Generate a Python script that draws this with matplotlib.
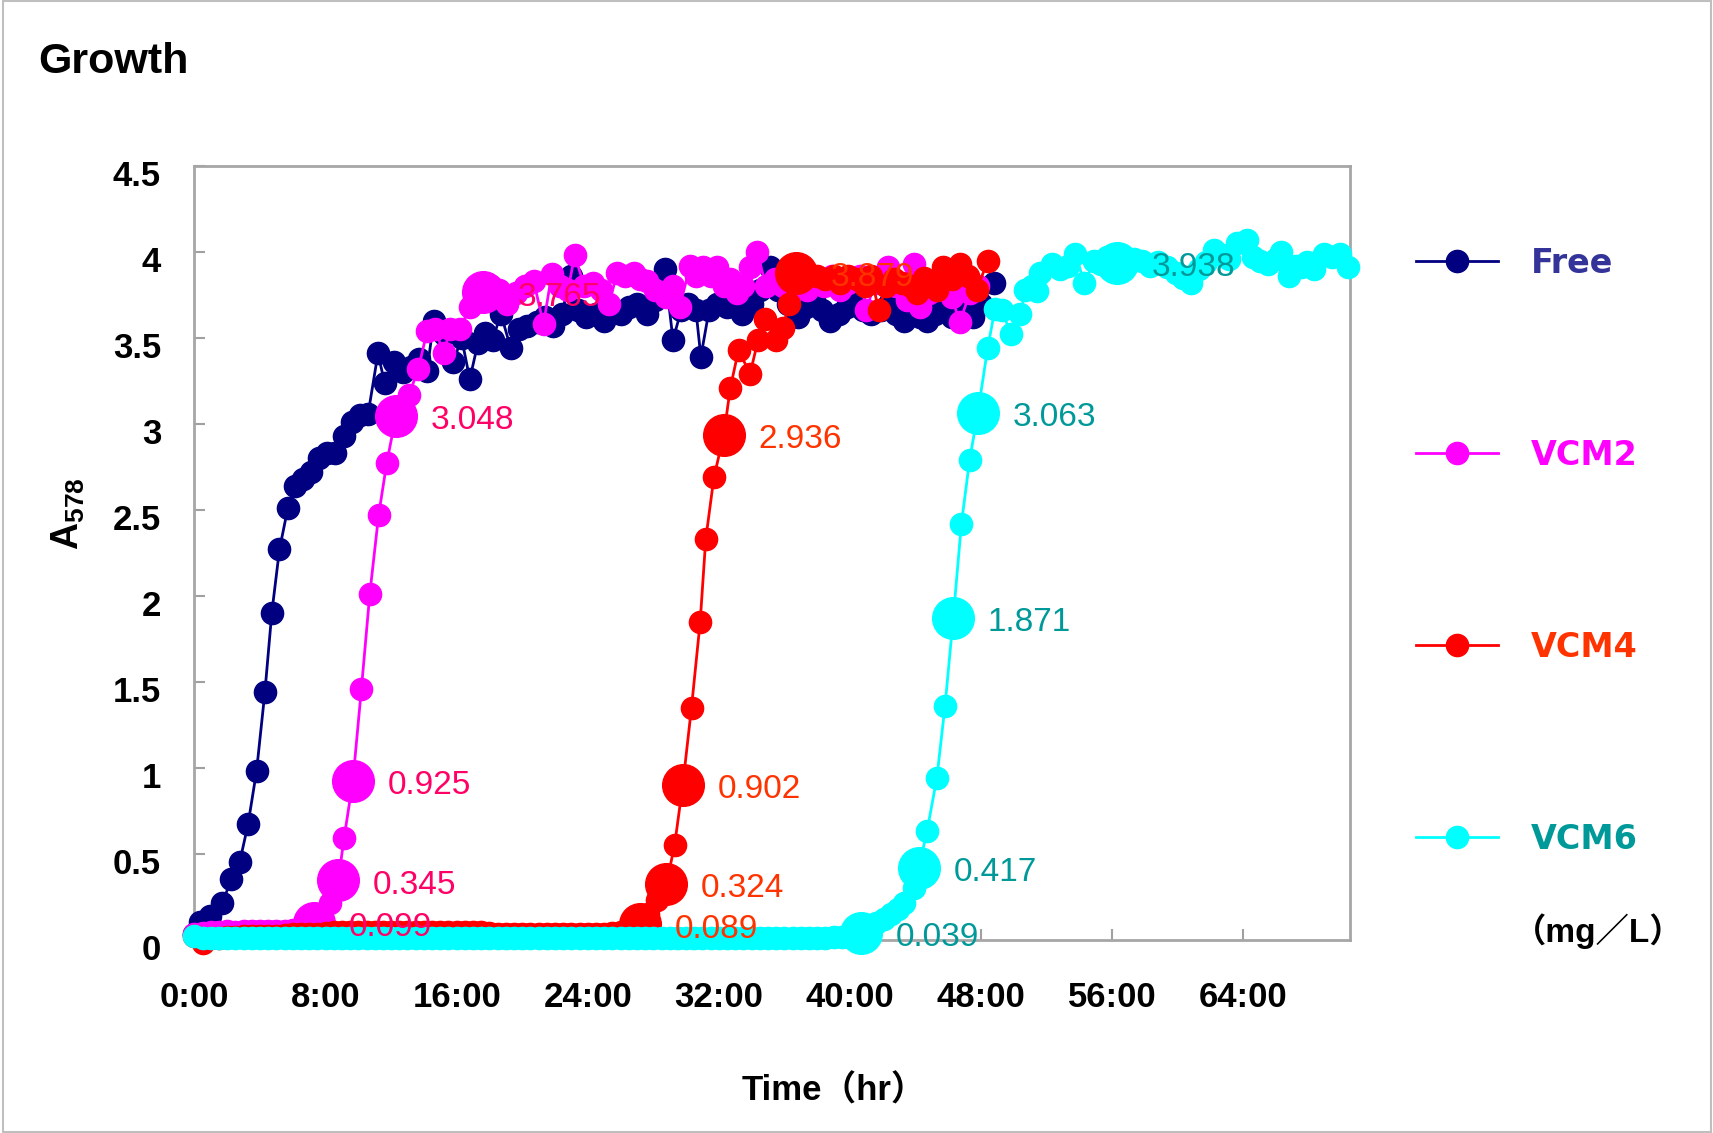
import matplotlib
matplotlib.use("Agg")
import matplotlib.pyplot as plt
from matplotlib.lines import Line2D
from matplotlib.patches import Rectangle
from matplotlib.transforms import ScaledTranslation

# ---------------- data (time in hours, A578) ----------------
free_data = [(0.0, 0.03), (0.37, 0.10), (0.96, 0.14), (1.70, 0.21), (2.24, 0.35), (2.76, 0.45),
             (3.27, 0.67), (3.79, 0.98), (4.30, 1.44), (4.72, 1.90), (5.19, 2.27), (5.70, 2.51),
             (6.14, 2.64), (6.6, 2.68), (7.1, 2.72), (7.6, 2.80), (8.1, 2.83), (8.6, 2.83),
             (9.1, 2.93), (9.6, 3.01), (10.1, 3.05), (10.6, 3.06), (11.2, 3.41), (11.6, 3.24),
             (12.2, 3.36), (12.7, 3.30), (13.2, 3.33), (13.7, 3.38), (14.2, 3.31), (14.6, 3.60),
             (15.2, 3.52), (15.8, 3.36), (16.3, 3.50), (16.8, 3.26), (17.3, 3.47), (17.7, 3.53),
             (18.2, 3.49), (18.7, 3.64), (19.3, 3.44), (19.8, 3.55), (20.3, 3.57), (20.9, 3.59),
             (21.4, 3.62), (21.9, 3.57), (22.4, 3.64), (23.0, 3.86), (23.4, 3.66), (23.9, 3.62),
             (24.5, 3.64), (25.0, 3.60), (25.5, 3.66), (26.0, 3.64), (26.5, 3.68), (27.0, 3.70),
             (27.6, 3.64), (28.1, 3.72), (28.7, 3.90), (29.2, 3.49), (29.7, 3.66), (30.1, 3.70),
             (30.6, 3.66), (30.9, 3.39), (31.4, 3.66), (31.9, 3.70), (32.5, 3.68), (33.0, 3.72),
             (33.4, 3.64), (34.0, 3.70), (34.5, 3.78), (35.1, 3.91), (35.6, 3.78), (36.2, 3.70),
             (36.8, 3.62), (37.3, 3.68), (37.8, 3.72), (38.3, 3.66), (38.8, 3.60), (39.3, 3.64),
             (39.8, 3.68), (40.3, 3.70), (40.8, 3.66), (41.3, 3.64), (41.9, 3.66), (42.4, 3.70),
             (42.8, 3.64), (43.3, 3.60), (43.8, 3.66), (44.3, 3.62), (44.7, 3.60), (45.2, 3.64),
             (45.7, 3.66), (46.2, 3.62), (46.7, 3.68), (47.1, 3.65), (47.5, 3.62), (48.0, 3.70),
             (48.8, 3.82)]

vcm2_data = [(0.0, 0.03), (0.5, 0.04), (1.0, 0.045), (1.5, 0.045), (2.0, 0.05), (2.5, 0.045),
             (3.0, 0.05), (3.5, 0.05), (4.0, 0.05), (4.5, 0.05), (5.0, 0.05), (5.5, 0.05),
             (6.0, 0.055), (6.5, 0.07), (6.9, 0.08), (7.3, 0.099), (7.8, 0.13), (8.3, 0.21),
             (8.78, 0.345), (9.13, 0.59), (9.67, 0.925), (10.19, 1.46), (10.70, 2.01), (11.24, 2.47),
             (11.73, 2.77), (12.3, 3.048), (13.1, 3.17), (13.66, 3.32), (14.2, 3.54), (14.7, 3.55),
             (15.2, 3.41), (15.6, 3.55), (16.2, 3.55), (16.8, 3.68), (17.2, 3.76), (17.6, 3.765),
             (18.1, 3.80), (18.6, 3.78), (19.1, 3.70), (19.6, 3.76), (20.2, 3.80), (20.7, 3.83),
             (21.3, 3.58), (21.8, 3.87), (22.3, 3.80), (22.8, 3.78), (23.2, 3.98), (23.8, 3.80),
             (24.35, 3.82), (24.8, 3.78), (25.3, 3.70), (25.8, 3.88), (26.3, 3.86), (26.8, 3.88),
             (27.2, 3.84), (27.6, 3.83), (28.1, 3.78), (28.8, 3.74), (29.2, 3.80), (29.6, 3.68),
             (30.25, 3.92), (30.6, 3.86), (31.05, 3.91), (31.5, 3.86), (31.9, 3.91), (32.3, 3.80),
             (32.7, 3.84), (33.1, 3.76), (33.5, 3.80), (33.9, 3.91), (34.3, 4.00), (34.9, 3.80),
             (35.4, 3.84), (35.9, 3.80), (36.4, 3.76), (36.9, 3.84), (37.4, 3.78), (37.9, 3.82),
             (38.4, 3.80), (38.9, 3.86), (39.4, 3.78), (39.9, 3.82), (40.6, 3.86), (41.0, 3.66),
             (41.5, 3.82), (42.0, 3.86), (42.3, 3.91), (42.8, 3.80), (43.5, 3.72), (43.9, 3.93),
             (44.3, 3.68), (44.8, 3.76), (45.3, 3.80), (45.8, 3.78), (46.2, 3.74), (46.7, 3.59),
             (47.3, 3.76), (47.8, 3.80)]

vcm4_data = [(0.0, 0.02), (0.5, -0.02), (1.0, 0.01), (1.5, 0.01), (2.0, 0.015), (2.5, 0.015),
             (3.0, 0.02), (3.5, 0.02), (4.0, 0.02), (4.5, 0.02), (5.0, 0.02), (5.5, 0.025),
             (6.0, 0.03), (6.5, 0.03), (7.0, 0.035), (7.5, 0.035), (8.0, 0.04), (8.5, 0.045),
             (9.0, 0.045), (9.5, 0.045), (10.0, 0.045), (10.5, 0.045), (11.0, 0.045), (11.5, 0.045),
             (12.0, 0.045), (12.5, 0.045), (13.0, 0.045), (13.5, 0.045), (14.0, 0.045), (14.5, 0.045),
             (15.0, 0.045), (15.5, 0.045), (16.0, 0.045), (16.5, 0.045), (17.0, 0.045), (17.5, 0.045),
             (18.0, 0.04), (18.5, 0.03), (19.0, 0.03), (19.5, 0.03), (20.0, 0.03), (20.5, 0.03),
             (21.0, 0.03), (21.5, 0.03), (22.0, 0.03), (22.5, 0.03), (23.0, 0.03), (23.5, 0.03),
             (24.0, 0.03), (24.5, 0.035), (25.0, 0.035), (25.5, 0.04), (26.0, 0.045), (26.5, 0.06),
             (27.2, 0.089), (27.7, 0.15), (28.2, 0.23), (28.8, 0.324), (29.3, 0.55), (29.8, 0.902),
             (30.33, 1.35), (30.86, 1.85), (31.2, 2.33), (31.7, 2.69), (32.3, 2.936), (32.7, 3.21),
             (33.2, 3.43), (33.9, 3.29), (34.4, 3.49), (34.8, 3.61), (35.5, 3.49), (35.9, 3.56),
             (36.3, 3.70), (36.7, 3.879), (37.2, 3.88), (37.97, 3.86), (38.5, 3.84), (39.0, 3.86),
             (39.4, 3.82), (39.9, 3.86), (40.4, 3.84), (40.9, 3.80), (41.3, 3.86), (41.75, 3.66),
             (42.2, 3.80), (42.7, 3.84), (43.2, 3.82), (43.7, 3.80), (44.1, 3.76), (44.5, 3.85),
             (45.0, 3.80), (45.3, 3.78), (45.7, 3.91), (46.2, 3.84), (46.7, 3.93), (47.2, 3.86),
             (47.75, 3.78), (48.4, 3.95)]

vcm6_data = [(0.0, 0.02), (0.5, 0.01), (1.0, 0.01), (1.5, 0.01), (2.0, 0.01), (2.5, 0.01),
             (3.0, 0.01), (3.5, 0.01), (4.0, 0.01), (4.5, 0.01), (5.0, 0.01), (5.5, 0.01),
             (6.0, 0.01), (6.5, 0.01), (7.0, 0.01), (7.5, 0.01), (8.0, 0.01), (8.5, 0.01),
             (9.0, 0.01), (9.5, 0.01), (10.0, 0.01), (10.5, 0.01), (11.0, 0.01), (11.5, 0.01),
             (12.0, 0.01), (12.5, 0.01), (13.0, 0.01), (13.5, 0.01), (14.0, 0.01), (14.5, 0.01),
             (15.0, 0.01), (15.5, 0.01), (16.0, 0.01), (16.5, 0.01), (17.0, 0.01), (17.5, 0.01),
             (18.0, 0.01), (18.5, 0.01), (19.0, 0.01), (19.5, 0.01), (20.0, 0.01), (20.5, 0.01),
             (21.0, 0.01), (21.5, 0.01), (22.0, 0.01), (22.5, 0.01), (23.0, 0.01), (23.5, 0.01),
             (24.0, 0.01), (24.5, 0.01), (25.0, 0.01), (25.5, 0.01), (26.0, 0.01), (26.5, 0.01),
             (27.0, 0.01), (27.5, 0.01), (28.0, 0.01), (28.5, 0.01), (29.0, 0.01), (29.5, 0.01),
             (30.0, 0.01), (30.5, 0.01), (31.0, 0.01), (31.5, 0.01), (32.0, 0.01), (32.5, 0.01),
             (33.0, 0.01), (33.5, 0.01), (34.0, 0.01), (34.5, 0.01), (35.0, 0.01), (35.5, 0.01),
             (36.0, 0.01), (36.5, 0.01), (37.0, 0.01), (37.5, 0.01), (38.0, 0.01), (38.5, 0.01),
             (39.0, 0.015), (39.5, 0.015), (40.0, 0.02), (40.7, 0.039), (41.2, 0.06), (41.6, 0.095),
             (42.1, 0.12), (42.5, 0.15), (42.9, 0.18), (43.3, 0.21), (43.9, 0.30), (44.2, 0.417),
             (44.7, 0.63), (45.3, 0.94), (45.8, 1.36), (46.3, 1.871), (46.8, 2.42), (47.3, 2.79),
             (47.8, 3.063), (48.4, 3.44), (48.85, 3.67), (49.3, 3.66), (49.8, 3.52), (50.4, 3.64),
             (50.7, 3.78), (51.1, 3.80), (51.4, 3.77), (51.6, 3.88), (52.3, 3.93), (52.8, 3.90),
             (53.3, 3.92), (53.75, 3.99), (54.3, 3.82), (54.9, 3.95), (55.3, 3.93), (55.7, 3.97),
             (56.3, 3.938), (56.9, 3.93), (57.3, 3.96), (57.8, 3.95), (58.3, 3.92), (58.8, 3.94),
             (59.35, 3.91), (59.9, 3.88), (60.3, 3.85), (60.8, 3.82), (61.3, 3.90), (61.7, 3.94),
             (62.2, 4.01), (62.7, 3.98), (63.1, 3.96), (63.6, 4.05), (64.2, 4.07), (64.6, 3.97),
             (65.0, 3.95), (65.5, 3.93), (66.0, 3.96), (66.3, 4.00), (66.8, 3.86), (67.2, 3.92),
             (67.5, 3.91), (67.9, 3.94), (68.3, 3.90), (68.9, 3.99), (69.4, 3.97), (69.9, 3.99),
             (70.4, 3.91)]

# labelled (highlighted) points
vcm2_marked = [0.099, 0.345, 0.925, 3.048, 3.765]
vcm4_marked = [0.089, 0.324, 0.902, 2.936, 3.879]
vcm6_marked = [0.039, 0.417, 1.871, 3.063, 3.938]

series_names = ["Free", "VCM2", "VCM4", "VCM6"]
x_tick_hours = [0, 8, 16, 24, 32, 40, 48, 56, 64]
x_tick_labels = ["0:00", "8:00", "16:00", "24:00", "32:00", "40:00", "48:00", "56:00", "64:00"]
y_ticks = [0, 0.5, 1, 1.5, 2, 2.5, 3, 3.5, 4, 4.5]
y_tick_labels = ["0", "0.5", "1", "1.5", "2", "2.5", "3", "3.5", "4", "4.5"]

# ---------------- style ----------------
line_colors = {"Free": "#000080", "VCM2": "#FF00FF", "VCM4": "#FF0000", "VCM6": "#00FFFF"}
text_colors = {"Free": "#333399", "VCM2": "#FF0066", "VCM4": "#FF3300", "VCM6": "#009999"}
legend_text_colors = {"Free": "#333399", "VCM2": "#FF00FF", "VCM4": "#FF3300", "VCM6": "#009999"}

plt.rcParams['font.family'] = ['Liberation Sans', 'Noto Sans CJK JP', 'DejaVu Sans']
plt.rcParams['mathtext.fontset'] = 'custom'
plt.rcParams['mathtext.rm'] = 'Liberation Sans'
plt.rcParams['mathtext.bf'] = 'Liberation Sans:bold'

fig = plt.figure(figsize=(17.13, 11.33), dpi=100)
ax = fig.add_axes([0.1135, 0.1707, 0.6745, 0.6828])

MS = 16
MS_BIG = 30

all_data = {"Free": free_data, "VCM2": vcm2_data, "VCM4": vcm4_data, "VCM6": vcm6_data}
marked = {"VCM2": vcm2_marked, "VCM4": vcm4_marked, "VCM6": vcm6_marked}

for z, name in enumerate(series_names):
    data = all_data[name]
    t = [p[0] for p in data]
    a = [p[1] for p in data]
    c = line_colors[name]
    ax.plot(t, a, '-', color=c, lw=2.0, marker='o', ms=MS, mec=c, mfc=c,
            clip_on=False, zorder=2 + z)
    if name in marked:
        for v in marked[name]:
            i = a.index(v)
            ax.plot([t[i]], [a[i]], 'o', color=c, ms=MS_BIG, mec=c, clip_on=False, zorder=2 + z)
            ax.annotate(f"{v:.3f}", (t[i], a[i]), xytext=(25, -3.5), textcoords='offset points',
                        ha='left', va='center', fontsize=24, color=text_colors[name],
                        zorder=20, annotation_clip=False)

ax.set_xlim(0, 70.5)
ax.set_ylim(0, 4.5)
ax.set_xticks(x_tick_hours)
ax.set_xticklabels(x_tick_labels)
ax.set_yticks(y_ticks)
ax.set_yticklabels(y_tick_labels)
ax.tick_params(axis='both', direction='in', length=8, width=1.5, color='#A0A0A0')
ax.tick_params(axis='y', pad=24)
ax.tick_params(axis='x', pad=30)
shift_down = ScaledTranslation(0, -5 / 72, fig.dpi_scale_trans)
for lab in ax.get_xticklabels() + ax.get_yticklabels():
    lab.set_fontweight('bold')
    lab.set_fontsize(25)
for lab in ax.get_yticklabels():
    lab.set_transform(lab.get_transform() + shift_down)
for s in ax.spines.values():
    s.set_color('#A6A6A6')
    s.set_linewidth(2)
    s.set_zorder(1)
ax.set_axisbelow(True)

# titles / labels
fig.text(0.0225, 0.945, "Growth", fontsize=31, fontweight='bold', ha='left', va='center')
fig.text(0.487, 0.037, "Time（hr）", fontsize=25, fontweight='bold', ha='center', va='center')
fig.text(0.040, 0.547, r"$\mathbf{A_{578}}$", fontsize=27, rotation=90, ha='center', va='center')

# legend
handles = [Line2D([], [], color=line_colors[n], lw=2.0, marker='o', ms=MS, mec=line_colors[n])
           for n in series_names]
leg = fig.legend(handles, series_names, loc='upper left', bbox_to_anchor=(0.8266, 0.782),
                 frameon=False, labelspacing=4.77, handlelength=2.45, handletextpad=1.0,
                 borderpad=0, borderaxespad=0,
                 prop=dict(family='DejaVu Sans', weight='bold', size=24))
for txt, n in zip(leg.get_texts(), series_names):
    txt.set_color(legend_text_colors[n])
fig.text(0.883, 0.178, "（mg／L）", fontsize=24, fontweight='bold', ha='left', va='center')

# outer border
fig.patches.append(Rectangle((0.0015, 0.001), 0.9975, 0.998, transform=fig.transFigure,
                             fill=False, ec='#BFBFBF', lw=1.5))

fig.savefig("out.png", dpi=100)
